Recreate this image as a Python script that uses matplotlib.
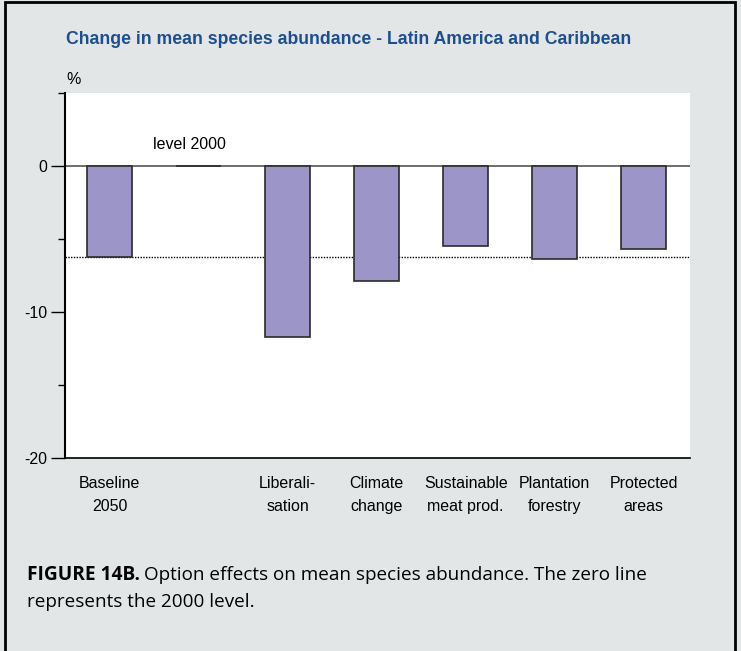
import matplotlib
matplotlib.use("Agg")
import matplotlib.pyplot as plt
from matplotlib.patches import Rectangle

# ------------------------------------------------------------
# Data
# ------------------------------------------------------------
categories = ["Baseline\n2050", "", "Liberali-\nsation", "Climate\nchange",
              "Sustainable\nmeat prod.", "Plantation\nforestry", "Protected\nareas"]
values = [-6.25, 0.0, -11.7, -7.85, -5.5, -6.4, -5.7]
baseline_level = -6.25
major_ticks = [0, -10, -20]
minor_ticks = [5, -5, -15]

BG = "#e3e6e7"
BAR = "#9b95c8"
TITLE_BLUE = "#1d4f8e"
NARROW = ["Liberation Sans Narrow", "Liberation Sans", "DejaVu Sans"]
CAPTION = ["Open Sans", "DejaVu Sans"]

plt.rcParams["font.family"] = NARROW

fig = plt.figure(figsize=(7.41, 6.51), dpi=100, facecolor=BG)

# outer frame (open at the bottom, cut by the page)
fig.patches.append(Rectangle((5 / 741, -0.05), 730 / 741, 1.05 - 2 / 651,
                             transform=fig.transFigure, fill=False,
                             edgecolor="black", linewidth=2))

ax = fig.add_axes([65 / 741, 1 - 458 / 651, 625 / 741, 365 / 651])
ax.set_facecolor("white")

x = range(len(categories))
ax.bar(x, values, width=0.5, color=BAR, edgecolor="#2b2b2b", linewidth=1.2, zorder=3)

# zero line and baseline reference (dotted)
ax.axhline(0, color="#555555", linewidth=1.2, zorder=2)
ax.axhline(baseline_level, color="black", linewidth=1, linestyle=(0, (1, 1)), zorder=2)

ax.text(0.9, 1.45, "level 2000", ha="center", va="center", fontsize=11.5)

ax.set_xlim(-0.5, 6.52)
ax.set_ylim(-20, 5)
ax.set_xticks(list(x))
ax.set_xticklabels(categories, fontsize=11.5, linespacing=1.65)
ax.tick_params(axis="x", length=0, pad=13)

ax.set_yticks(major_ticks)
ax.set_yticklabels([str(t) for t in major_ticks], fontsize=11.5)
ax.set_yticks(minor_ticks, minor=True)
ax.tick_params(axis="y", which="major", length=10, width=1, direction="out", pad=3)
ax.tick_params(axis="y", which="minor", length=5, width=1, direction="out")

for side in ["top", "right"]:
    ax.spines[side].set_visible(False)
ax.spines["left"].set_linewidth(1.5)
ax.spines["bottom"].set_linewidth(1.2)

# titles
fig.text(66 / 741, 1 - 39 / 651, "Change in mean species abundance - Latin America and Caribbean",
         color=TITLE_BLUE, fontsize=12.7, fontweight="bold", ha="left", va="center")
fig.text(66 / 741, 1 - 80 / 651, "%", fontsize=11.5, ha="left", va="center")

# caption
cap_y = 1 - 575 / 651
t1 = fig.text(27 / 741, cap_y, "FIGURE 14B.", fontsize=13.8, fontweight="bold",
              family=CAPTION, ha="left", va="center")
fig.canvas.draw()
bb = t1.get_window_extent()
fig.text((bb.x1 + 4) / 741, cap_y, "Option effects on mean species abundance. The zero line",
         fontsize=13.6, family=CAPTION, ha="left", va="center")
fig.text(27 / 741, 1 - 602 / 651, "represents the 2000 level.", fontsize=13.6,
         family=CAPTION, ha="left", va="center")

fig.savefig("out.png", dpi=100, facecolor=BG)
